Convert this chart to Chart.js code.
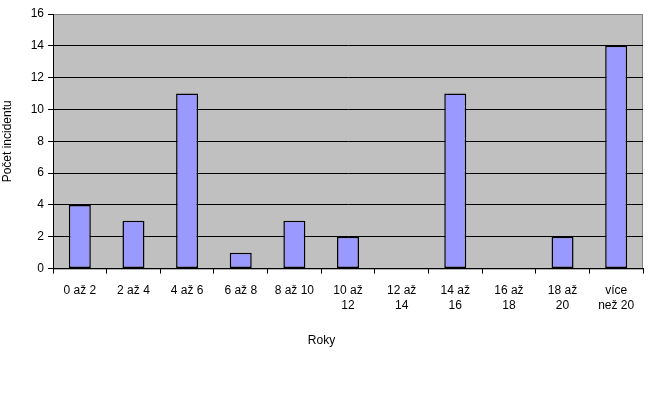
<!DOCTYPE html>
<html>
<head>
<meta charset="utf-8">
<script src="https://cdn.jsdelivr.net/npm/chart.js@4/dist/chart.umd.min.js"></script>
<style>
  html, body { margin: 0; padding: 0; background: #fff; }
  #wrap { width: 650px; height: 405px; }
</style>
</head>
<body>
<div id="wrap"><canvas id="chart"></canvas></div>
<script>
// --- DATA ---
const categories = [
    '0 až 2', '2 až 4', '4 až 6', '6 až 8', '8 až 10',
    ['10 až', '12'], ['12 až', '14'], ['14 až', '16'], ['16 až', '18'], ['18 až', '20'], ['více', 'než 20']
];
const incidents = [4, 3, 11, 1, 3, 2, 0, 11, 0, 2, 14];
const yTicks = [0, 2, 4, 6, 8, 10, 12, 14, 16];

const font = { family: 'Arial, "Liberation Sans", sans-serif', size: 12, weight: 'normal' };

// gray plot background with darker frame, like the old spreadsheet charts
const plotBackground = {
    id: 'plotBackground',
    beforeDraw(chart) {
        const { ctx, chartArea: a } = chart;
        ctx.save();
        ctx.fillStyle = '#C0C0C0';
        ctx.fillRect(a.left, a.top, a.right - a.left, a.bottom - a.top);
        ctx.strokeStyle = '#808080';
        ctx.lineWidth = 1;
        ctx.strokeRect(a.left + 0.5, a.top + 0.5, a.right - a.left - 1, a.bottom - a.top);
        ctx.restore();
    }
};

new Chart(document.getElementById('chart'), {
    type: 'bar',
    data: {
        labels: categories,
        datasets: [{
            data: incidents,
            backgroundColor: '#9999FF',
            borderColor: '#000',
            borderWidth: 1.5,
            borderSkipped: false,
            barPercentage: 0.41,
            categoryPercentage: 1
        }]
    },
    options: {
        responsive: true,
        maintainAspectRatio: false,
        animation: false,
        layout: { padding: { left: 0, top: 14, right: 7, bottom: 57 } },
        plugins: {
            legend: { display: false },
            tooltip: { enabled: false },
            title: {
                display: true,
                text: 'Roky',
                position: 'bottom',
                color: '#000',
                font: font,
                padding: 0
            }
        },
        scales: {
            x: {
                offset: true,
                grid: { offset: true, drawOnChartArea: false, drawTicks: true, tickLength: 5, color: '#000' },
                border: { color: '#000' },
                ticks: { color: '#000', font: font, padding: 10, maxRotation: 0, autoSkip: false },
                afterFit(scale) { scale.height = 65; }
            },
            y: {
                min: 0,
                max: 16,
                afterBuildTicks(scale) { scale.ticks = yTicks.map(v => ({ value: v })); },
                grid: {
                    color: ctx => ctx.tick && ctx.tick.value === 16 ? '#808080' : '#000',
                    tickColor: '#000',
                    tickLength: 5
                },
                border: { color: '#000' },
                ticks: { color: '#000', font: font, padding: 4 },
                title: { display: true, text: 'Počet incidentu', color: '#000', font: font, padding: 0 },
                afterFit(scale) { scale.width = 53; }
            }
        }
    },
    plugins: [plotBackground]
});
</script>
</body>
</html>
